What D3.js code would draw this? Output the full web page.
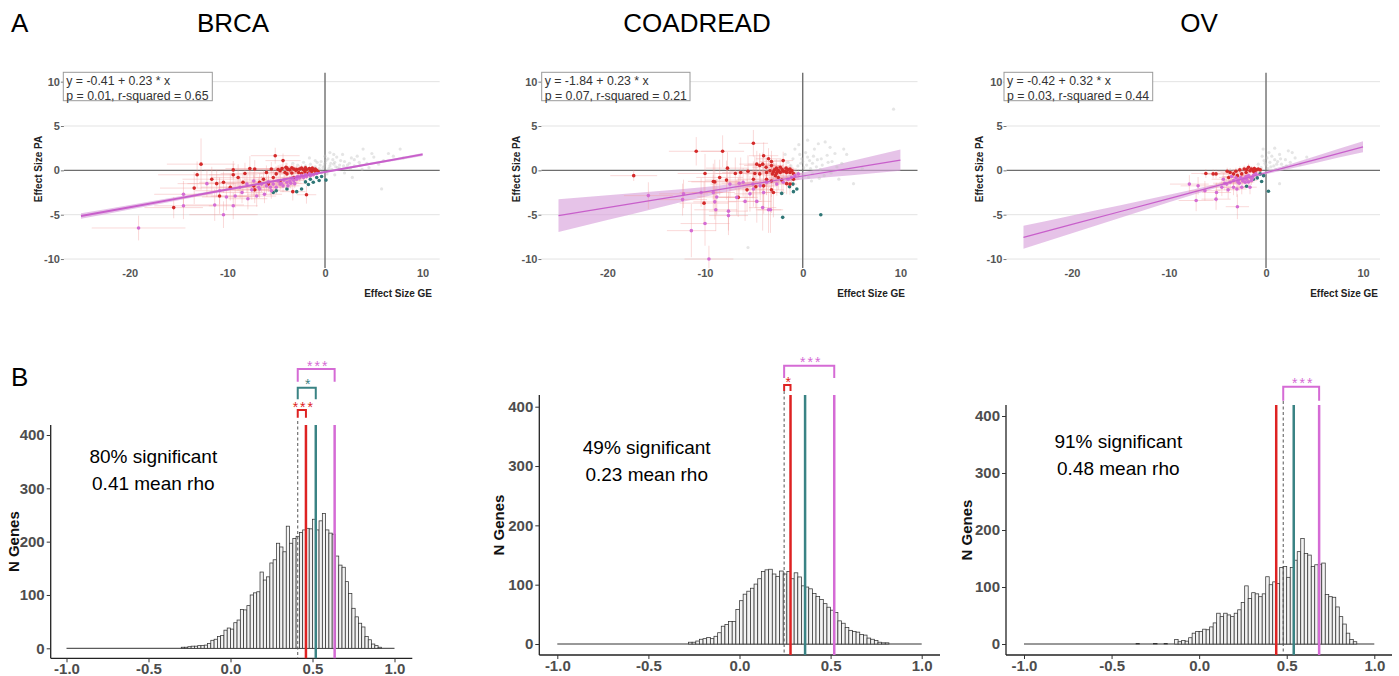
<!DOCTYPE html>
<html>
<head>
<meta charset="utf-8">
<script src="https://cdn.jsdelivr.net/npm/d3@7"></script>
<style>
  body { margin: 0; background: #fff; }
  text { font-family: "Liberation Sans", Arial, sans-serif; }
</style>
</head>
<body>
<script>
// ---------- DATA ----------
const cancers = ["BRCA", "COADREAD", "OV"];
const fitLabels = [
  ["y = -0.41 + 0.23 * x", "p = 0.01, r-squared = 0.65"],
  ["y = -1.84 + 0.23 * x", "p = 0.07, r-squared = 0.21"],
  ["y = -0.42 + 0.32 * x", "p = 0.03, r-squared = 0.44"]
];
const xTicksA = [-20, -10, 0, 10];
const yTicksA = [-10, -5, 0, 5, 10];

// fitted line and confidence band
const fitX = [-25, -20, -15, -10, -5, 0, 5, 10];
const fitY = [
  [-5.15, -4.16, -3.16, -2.17, -1.18, -0.18, 0.81, 1.8],
  [-5.1, -4.21, -3.31, -2.42, -1.53, -0.64, 0.26, 1.15],
  [-7.55, -6.09, -4.64, -3.18, -1.72, -0.27, 1.19, 2.65]
];
const fitHalf = [
  [0.32, 0.26, 0.2, 0.14, 0.1, 0.09, 0.12, 0.17],
  [1.85, 1.4, 0.95, 0.55, 0.3, 0.4, 0.8, 1.2],
  [1.3, 1.0, 0.7, 0.42, 0.2, 0.18, 0.38, 0.62]
];

// points: [GE effect, PA effect, GE error, PA error]
const brcaRed = [[-5.1,1.65,2.5,0.9],[-4.3,1.1,1.8,0.8],[-12.7,0.7,3.5,2.9],[-13.1,-0.5,4,1.5],[-15.5,-4.2,3,1.2],
  [-13.4,-2.0,3.5,1.8],[-11.6,-1.0,3,1.4],[-9.4,-0.5,2.5,1.2],[-9.4,0.05,3,1],[-7.7,0.2,2.5,1.4],[-7.2,0.15,2,1],
  [-8.2,-0.35,2.5,1.2],[-8.9,-0.8,2.8,1.5],[-11.1,-1.5,3,1.5],[-10.4,-1.35,2.5,1.2],[-10.8,-2.9,3,2],[-7.2,-2.2,2.5,1.5],
  [-6.7,-1.35,2,1],[-6.0,-0.25,2,0.8],[-5.5,0.15,1.8,0.8],[-5.0,-0.4,1.8,0.8],[-4.6,-0.05,1.5,0.7],[-3.9,0.25,1.3,0.6],
  [-3.6,0.05,1.2,0.5],[-3.2,0.15,1,0.5],[-2.9,0.1,1,0.4],[-2.6,0.15,0.9,0.4],[-2.2,0.05,0.8,0.4],[-1.9,0.1,0.7,0.3],
  [-1.5,0.05,0.6,0.3],[-1.2,0.05,0.5,0.3],[-0.85,0,0.4,0.2],[-4.1,-0.25,1.5,0.7],[-3.4,-0.3,1.2,0.6],[-2.7,-0.25,1,0.5],
  [-2.05,-0.2,0.8,0.4],[-1.4,-0.15,0.6,0.3],[-5.3,-0.8,1.8,0.9],[-6.3,-1.0,2,1],[-4.6,-1.2,1.6,0.8],[-3.2,-0.8,1.2,0.6],
  [-1.9,-2.75,1,1],[-3.3,-2.4,1.3,1],[-7.3,-1.75,2.2,1.2],[-8.4,-1.35,2.5,1.2],[-9.7,-1.9,3,1.5],[-5.8,-1.55,1.8,0.9],
  [-3.9,-0.4,1.3,0.6],[-2.4,-0.35,0.9,0.4],[-1.7,-0.3,0.7,0.3],[-1.0,-0.1,0.5,0.3],[-0.7,-0.15,0.4,0.2],
  [-4.8,0.1,1.2,0.5],[-4.4,0.2,1.2,0.5],[-3.8,0.1,1,0.4],[-3.0,0.0,0.9,0.4],[-2.4,0.25,0.8,0.4],[-1.6,0.2,0.6,0.3],
  [-1.0,0.15,0.4,0.2],[-4.0,0.35,1.1,0.5],[-3.4,0.3,1,0.4],[-2.0,0.3,0.7,0.3],[-1.3,0.25,0.5,0.3]];
const brcaPink = [[-19.1,-6.5,4.8,1.4],[-14.5,-2.7,3,1.5],[-14.5,-4.0,3,1.5],[-12.1,-1.5,3,1.5],[-11.3,-3.9,3,1.8],
  [-10.4,-5.0,3.5,1.5],[-10.8,-2.3,2.5,1.5],[-10.1,-3.0,2.5,1.5],[-9.4,-4.0,2.5,1.5],[-9.2,-2.9,2.5,1.3],[-8.7,-1.9,2.2,1.2],
  [-7.9,-3.2,2,1.2],[-7.0,-2.9,2,1.2],[-6.7,-2.1,1.8,1],[-6.2,-2.7,1.8,1],[-8.0,-1.55,2,1],[-7.3,-1.2,2,1],[-6.5,-1.55,1.8,0.9],
  [-5.6,-1.9,1.6,0.9],[-5.3,-1.55,1.5,0.8],[-5.0,-1.9,1.5,0.8],[-4.6,-1.55,1.4,0.7],[-4.3,-1.75,1.3,0.7],[-3.9,-1.35,1.2,0.6],
  [-3.6,-1.2,1.1,0.6],[-3.2,-1.15,1,0.5],[-2.9,-1.0,0.9,0.5],[-2.6,-0.85,0.8,0.4],[-2.2,-0.8,0.7,0.4],[-1.9,-0.7,0.6,0.3],
  [-1.5,-0.6,0.5,0.3],[-1.2,-0.5,0.4,0.3],[-0.85,-0.35,0.3,0.2],[-6.0,-1.75,1.7,0.9],[-6.8,-1.9,1.8,1],[-7.5,-2.2,2,1.1],
  [-8.5,-2.5,2.2,1.2],[-5.5,-2.3,1.6,0.9],[-3.8,-1.75,1.2,0.6],[-3.1,-1.5,1,0.5],[-4.8,-1.2,1.3,0.6],[-4.2,-1.1,1.2,0.6],
  [-3.4,-0.9,1,0.5],[-2.8,-0.7,0.9,0.4],[-2.4,-0.6,0.8,0.4],[-2.0,-0.5,0.7,0.3],[-1.6,-0.4,0.6,0.3],[-5.8,-1.3,1.6,0.8],
  [-4.5,-1.45,1.3,0.7],[-3.5,-1.45,1.1,0.6]];
const brcaTeal = [[0.1,-1.1,0.3,0.3],[-0.6,-1.15,0.3,0.3],[-1.2,-1.35,0.4,0.3],[-1.7,-1.6,0.5,0.4],[-2.4,-2.1,0.6,0.5],
  [-2.9,-2.4,0.7,0.5],[-5.3,-2.5,1,0.6],[-5.0,-2.3,1,0.6],[-3.9,-2.1,0.8,0.5],[-0.85,-0.8,0.3,0.3],[-0.35,-0.7,0.3,0.3],
  [-1.5,-1.0,0.4,0.3],[-2.0,-1.3,0.5,0.4]];
const brcaGrey = [[-2.5,0.3],[-2,0.5],[-1.5,0.7],[-1,0.4],[-0.5,0.6],[0,0.8],[0.5,0.5],[1,0.9],[1.5,0.6],[2,1.0],[2.5,0.8],
  [3,1.2],[3.5,0.9],[4,1.3],[5,1.5],[6,1.1],[7,1.6],[8,1.4],[-1,1.1],[0.3,1.3],[1.2,1.5],[-0.3,-0.2],[0.7,0.1],[1.5,0.2],
  [2.2,0.3],[3,0.5],[-1.8,0.1],[0.2,-0.4],[1,-0.5],[2,-0.3],[5.8,-2.1],[4.5,0.3],[2.8,-0.8],[-0.8,0.9],[1.8,1.8],[0.5,2.0],
  [3.8,0.1],[-2.2,0.9],[-1.3,-0.3],[0.9,0.7],[7.7,2.4],[3.9,2.4],[-0.2,0.3],[0.4,0.2],[1.3,0.3],[-0.6,0.2],
  [-0.4,1.0],[0.1,1.1],[0.8,1.2],[1.6,1.1],[2.3,0.6],[2.7,1.4],[3.3,1.6],[4.3,0.8],[5.5,0.7],[6.5,1.9],[-1.6,1.4],
  [-0.1,0.5],[0.6,0.8],[1.1,0.4],[1.9,0.5],[2.6,0.2],[3.6,0.6],[0.0,1.6],[0.9,1.8],[-2.8,0.6],[-3.3,0.8],[4.8,1.9]];

const coadRed = [[-17.3,-0.6,2.4,0.6],[-10.9,2.15,2.8,1.6],[-8.2,2.15,2.2,1.8],[-5.05,3.05,1.5,1.5],[-4.0,1.65,1.5,1.5],
  [-3.5,1.3,1.3,1.2],[-3.2,1.0,1.2,1.2],[-2.0,1.1,1,1],[-4.7,0.7,1.8,1.5],[-4.4,0.55,1.6,1.4],[-4.1,0.7,1.5,1.3],
  [-3.75,0.35,1.4,1.2],[-3.2,0.55,1.2,1.1],[-2.7,0.25,1.1,1],[-2.3,0.35,1,0.9],[-1.7,0.25,0.8,0.8],[-1.3,0.15,0.7,0.6],
  [-7.7,0.25,2.2,1.8],[-10.0,-0.35,2.8,2.2],[-9.15,-1.25,2.6,2],[-9.0,-1.3,2.4,2.5],[-8.5,-0.8,2.4,2],[-7.8,-1.1,2.2,2.2],
  [-6.9,-0.35,2,1.8],[-6.35,-0.25,1.9,1.7],[-5.6,-0.1,1.8,1.8],[-4.9,-0.35,1.6,2],[-4.4,-0.4,1.5,2.2],[-3.7,-0.25,1.3,1.6],
  [-3.35,-0.05,1.2,1.2],[-3.0,-0.15,1.1,1.1],[-2.7,-0.35,1.1,1],[-2.3,-0.25,1,0.9],[-2.0,-0.1,0.9,0.8],[-1.65,-0.25,0.8,0.7],
  [-1.3,-0.25,0.7,0.6],[-0.95,-0.35,0.6,0.5],[-2.8,-0.6,1.1,1.2],[-2.5,-0.8,1,1.4],[-2.15,-1.1,1,1.6],[-3.2,-1.2,1.2,1.8],
  [-3.7,-1.0,1.3,1.8],[-5.05,-1.0,1.6,2],[-5.7,-2.2,1.8,2.4],[-4.8,-1.85,1.6,2.4],[-4.0,-1.75,1.5,2.6],[-3.2,-2.2,1.3,2.6],
  [-3.0,-2.5,1.2,2.8],[-6.6,-3.05,2,2.2],[-10.1,-3.7,2.5,2.4],[-1.65,-1.5,0.8,1.2],[-1.3,-1.55,0.7,1.2],[-0.95,-1.0,0.6,0.8],
  [-2.9,0.05,0.8,0.6],[-2.5,0.0,0.8,0.6],[-2.1,0.1,0.7,0.5],[-1.8,-0.1,0.7,0.5],[-1.5,0.05,0.6,0.5],[-2.6,-0.15,0.8,0.6],
  [-3.1,-0.4,0.9,0.7],[-1.1,-0.05,0.5,0.4]];
const coadPink = [[-15.8,-2.85,2.5,1.5],[-12.2,-2.65,2.5,1.6],[-12.3,-3.3,2.5,1.8],[-10.4,-2.5,2.2,1.6],[-9.15,-2.5,2.2,2],
  [-9.0,-3.55,2.2,2],[-8.8,-3.0,2,2],[-8.9,-4.45,2.2,2.4],[-10.0,-6.0,2.5,2.5],[-11.4,-6.8,2.5,3],[-9.6,-10.0,2.5,1.5],
  [-7.6,-4.6,2,2.2],[-7.6,-5.1,2,2.2],[-7.45,-1.55,2,1.6],[-6.75,-3.05,1.8,2],[-6.1,-1.35,1.7,1.6],[-5.9,-3.5,1.7,2.2],
  [-5.4,-2.65,1.6,2],[-5.05,-2.1,1.5,2],[-4.7,-3.5,1.5,2.4],[-4.0,-2.5,1.4,2.4],[-4.1,-4.2,1.4,2.6],[-3.5,-4.45,1.3,2.6],
  [-3.3,-4.45,1.3,2.6],[-4.35,-1.75,1.4,1.6],[-3.7,-1.35,1.3,1.4],[-2.65,-1.55,1.1,1.3],[-2.0,-1.35,0.9,1.1],[-1.5,-1.0,0.8,0.9],
  [-1.15,-0.8,0.7,0.8],[-0.8,-0.6,0.5,0.6],[-0.45,-0.4,0.4,0.5],[-6.5,-1.45,1.8,1.6],[-5.1,-1.55,1.6,1.6]];
const coadTeal = [[-2.05,-5.3,0.5,1.3],[1.85,-5.0,0.3,1.5],[-2.15,-2.6,0.5,0.8],[-0.95,-2.4,0.4,0.6],[-0.6,-2.1,0.4,0.6],
  [-1.0,-1.55,0.4,0.5],[-1.35,-1.85,0.4,0.5]];
const coadGrey = [[-0.5,0.5],[0,1.0],[0.5,1.5],[1,0.8],[1.5,1.2],[2,0.6],[-1,1.3],[0.3,2.0],[1.2,2.4],[2.5,1.7],[3,1.0],
  [0.8,0.2],[-0.3,1.8],[1.8,0.1],[2.8,2.6],[3.5,0.4],[-1.5,0.9],[0.1,0.3],[1,-0.4],[2.2,-0.6],[4.5,1.8],[3.7,-1.0],
  [-0.8,2.4],[1.6,3.0],[0.6,-0.8],[9.3,6.9],[5.2,-1.5],[4.2,2.4],[2.3,3.2],[-5.6,-8.7],[-0.2,0.8],[0.7,1.1],[1.4,0.4],
  [-0.6,-0.3],[0.2,-0.6],[0.4,0.6],[1.1,1.6],[1.9,1.3],[2.6,0.9],[3.3,1.9],[-0.1,1.3],[-1.2,0.5],[0.9,-1.2],[1.7,-0.9],
  [2.9,-0.3],[4.0,0.8],[-0.4,2.9],[0.5,3.4],[-1.8,1.8],[6.1,0.2]];

const ovRed = [[-6.2,-0.35,1.5,0.5],[-5.45,-0.4,1.2,0.5],[-5.15,-0.4,1.2,0.5],[-3.35,-0.4,1,0.5],[-3.1,-0.1,0.9,0.4],
  [-2.7,0.05,0.8,0.4],[-2.5,-0.4,0.8,0.4],[-2.25,0.15,0.7,0.4],[-1.8,0.35,0.6,0.4],[-1.65,-0.05,0.6,0.3],[-1.5,0.15,0.5,0.3],
  [-1.3,-0.1,0.5,0.3],[-1.0,0.05,0.4,0.3],[-0.8,0.15,0.4,0.3],[-0.6,0.05,0.3,0.2],[-3.7,-0.25,1,0.5],[-2.95,-0.6,0.9,0.5],
  [-2.05,-0.25,0.7,0.4],[-3.85,-0.8,1,0.6],[-1.15,-0.25,0.5,0.3],[-4.0,-0.1,1,0.4],[-2.0,0.1,0.6,0.3],[-1.2,0.2,0.4,0.3]];
const ovPink = [[-7.9,-1.55,2,1],[-7.0,-1.75,1.8,1],[-7.2,-3.4,1.8,1.2],[-5.15,-3.25,1.5,1.2],[-5.1,-2.5,1.5,1.1],
  [-6.3,-2.3,1.6,1.1],[-2.95,-4.1,1.2,1.4],[-4.55,-1.9,1.3,1],[-4.05,-1.55,1.2,0.9],[-3.7,-1.35,1.1,0.8],[-3.35,-1.15,1,0.7],
  [-3.1,-0.85,0.9,0.6],[-2.85,-1.1,0.9,0.6],[-2.6,-0.8,0.8,0.5],[-2.35,-1.0,0.8,0.5],[-2.05,-0.7,0.7,0.5],[-1.8,-0.6,0.6,0.4],
  [-1.6,-0.8,0.6,0.4],[-1.3,-0.55,0.5,0.4],[-1.05,-0.4,0.4,0.3],[-3.9,-2.2,1.2,1],[-3.35,-1.9,1.1,0.9],[-2.5,-1.9,0.9,0.8],
  [-1.65,-1.9,0.7,0.8],[-4.4,-1.0,1.2,0.7],[-3.55,-0.7,1,0.6],[-2.75,-1.45,0.9,0.7],[-2.15,-1.35,0.8,0.6],[-1.5,-1.15,0.6,0.5],
  [-4.25,-1.45,1.2,0.8],[-3.0,-2.1,1,0.9],[-2.4,-1.2,0.8,0.5],[-2.0,-1.0,0.7,0.5],[-1.8,-1.3,0.6,0.5],[-2.9,-1.3,0.9,0.6],
  [-2.2,-0.9,0.7,0.5],[-1.4,-0.9,0.5,0.4]];
const ovTeal = [[0.25,-2.35,0.3,0.4],[-2.0,-1.8,0.5,0.5],[-0.45,-1.25,0.3,0.3],[-0.9,-0.85,0.3,0.3],[-1.3,-1.0,0.4,0.3],
  [-0.25,-0.6,0.3,0.3],[-0.6,-0.4,0.3,0.3]];
const ovGrey = [[-0.5,0.3],[0,0.6],[0.4,0.9],[0.8,0.5],[1.2,1.0],[1.6,0.7],[2,1.2],[-0.2,1.1],[0.6,1.6],[1.4,1.8],[2.5,0.9],
  [3,1.4],[0.2,0.2],[1,0.1],[-0.8,0.7],[1.8,0.3],[2.7,2.0],[-0.3,2.4],[2.3,2.2],[1.4,-1.5],[4.2,1.5],[0.1,1.4],[0.9,1.2],
  [-0.1,0.8],[0.5,0.4],[1.1,0.7],[1.5,1.3],[2.1,0.5],[-0.4,1.6],[0.3,2.0],[0.9,2.5],[3.5,0.7],[-0.6,-0.1]];

const redPts = [brcaRed, coadRed, ovRed];
const pinkPts = [brcaPink, coadPink, ovPink];
const tealPts = [brcaTeal, coadTeal, ovTeal];
const greyPts = [brcaGrey, coadGrey, ovGrey];

// histograms of rho, bins of 0.02
const binWidth = 0.02;
const binStart = [-0.30, -0.28, -0.36];
const brcaCounts = [2,2,3,4,4,5,5,6,9,15,17,22,24,34,38,36,48,53,73,72,80,100,104,106,143,128,134,160,166,197,
  190,181,229,197,206,210,217,222,225,224,242,222,239,253,222,216,214,173,156,152,125,103,75,59,47,40,22,16,8,5,2];
const coadCounts = [3,3,5,8,9,11,9,13,19,30,33,38,38,58,73,84,89,94,101,110,122,125,126,118,114,123,118,122,110,120,
  113,98,96,93,85,80,75,68,62,57,53,39,35,28,23,21,20,16,15,10,8,6,3,2,2];
const ovCounts = [1,0,0,0,0,1,0,0,1,0,0,8,4,6,5,11,19,22,22,26,25,30,37,54,48,54,51,48,54,60,73,102,80,90,88,83,88,
  118,104,109,106,134,136,117,134,147,162,185,159,156,136,139,140,142,87,83,82,65,48,35,19,8,4];
const counts = [brcaCounts, coadCounts, ovCounts];
const xTicksB = [-1, -0.5, 0, 0.5, 1];
const yTicksB = [0, 100, 200, 300, 400];

const sigLabels = ["80% significant", "49% significant", "91% significant"];
const rhoLabels = ["0.41 mean rho", "0.23 mean rho", "0.48 mean rho"];
const meanRho = [0.41, 0.245, 0.48];
const groupRho = {
  red: [0.46, 0.28, 0.44],
  teal: [0.52, 0.36, 0.54],
  pink: [0.635, 0.52, 0.685]
};
const brackets = [
  [["red", "***"], ["teal", "*"], ["pink", "***"]],
  [["red", "*"], ["pink", "***"]],
  [["pink", "***"]]
];

// ---------- STYLE / LAYOUT ----------
const col = { red: "#de2222", teal: "#3a8384", pink: "#d56bd5", grey: "#bdbdbd" };
const topLayout = [
  { left: 63.9, right: 439.7, yLab: 38.3, xTitleEnd: 432, boxX: 63.3, boxW: 149 },
  { left: 541.4, right: 917.5, yLab: 516.7, xTitleEnd: 905, boxX: 541.7, boxW: 148.3 },
  { left: 1006.5, right: 1380, yLab: 979.3, xTitleEnd: 1378, boxX: 1004, boxW: 148.7 }
];
const histLayout = [
  { x0: 66.5, x1: 394.5, yZero: 648.3, y400: 435, axisX: 50.7, axisTop: 425, axisY: 658.3, axisRight: 412.3,
    nX: 14, nY: 541.7, textX: 153.3, textY: [456.7, 483.3], brY: [410, 387.7, 369], legY: [417.7, 399.3, 381.7] },
  { x0: 557.3, x1: 921.7, yZero: 644, y400: 406.7, axisX: 539.3, axisTop: 395, axisY: 655, axisRight: 940,
    nX: 498.3, nY: 525, textX: 646.7, textY: [447.3, 474], brY: [385, 365.7], legY: [391, 378] },
  { x0: 1024, x1: 1374.3, yZero: 644, y400: 416, axisX: 1006, axisTop: 405, axisY: 655, axisRight: 1392,
    nX: 966.7, nY: 530, textX: 1118.3, textY: [441, 468.3], brY: [386.7], legY: [400.7] }
];
const titleX = [233, 697, 1199];

const svg = d3.select("body").append("svg").attr("width", 1399).attr("height", 676);

// * TITLES
const cal = "Lato, 'Open Sans', sans-serif";
svg.append("text").attr("x", 11).attr("y", 32).attr("font-family", cal).attr("font-size", 26).text("A");
svg.append("text").attr("x", 11).attr("y", 386).attr("font-family", cal).attr("font-size", 26).text("B");
svg.selectAll("text.title").data(cancers).join("text")
  .attr("class", "title")
  .attr("x", (d, i) => titleX[i]).attr("y", 32)
  .attr("text-anchor", "middle")
  .attr("font-family", cal).attr("font-size", 26)
  .text(d => d);

// * PANEL A: effect size scatter
function drawScatter(k) {
  const L = topLayout[k];
  const x = d3.scaleLinear().domain([-26.75, 11.75]).range([L.left, L.right]);
  const y = d3.scaleLinear().domain([-11, 11]).range([267.9, 72.8]);
  const g = svg.append("g");

  svg.append("clipPath").attr("id", "clipA" + k)
    .append("rect").attr("x", L.left).attr("y", 72.8)
    .attr("width", L.right - L.left).attr("height", 267.9 - 72.8);

  g.selectAll("line.grid").data(yTicksA.filter(v => v !== 0)).join("line")
    .attr("x1", L.left).attr("x2", L.right)
    .attr("y1", d => y(d)).attr("y2", d => y(d))
    .attr("stroke", "#e3e3e3").attr("stroke-width", 1);

  g.append("line").attr("x1", L.left).attr("x2", L.right).attr("y1", y(0)).attr("y2", y(0))
    .attr("stroke", "#6e6e6e").attr("stroke-width", 1.4);
  g.append("line").attr("x1", x(0)).attr("x2", x(0)).attr("y1", 72.8).attr("y2", 267.9)
    .attr("stroke", "#6e6e6e").attr("stroke-width", 1.4);

  const pg = g.append("g").attr("clip-path", "url(#clipA" + k + ")");

  const band = d3.area()
    .x((d, i) => x(fitX[i]))
    .y0((d, i) => y(fitY[k][i] - fitHalf[k][i]))
    .y1((d, i) => y(fitY[k][i] + fitHalf[k][i]))
    .curve(d3.curveMonotoneX);
  pg.append("path").datum(fitX).attr("d", band).attr("fill", "#d9a3dc").attr("opacity", 0.65);

  const withErr = redPts[k].concat(pinkPts[k]);
  pg.selectAll("line.eh").data(withErr).join("line")
    .attr("x1", d => x(d[0] - d[2])).attr("x2", d => x(d[0] + d[2]))
    .attr("y1", d => y(d[1])).attr("y2", d => y(d[1]))
    .attr("stroke", "#f29a9a").attr("stroke-opacity", 0.42).attr("stroke-width", 0.9);
  pg.selectAll("line.ev").data(withErr).join("line")
    .attr("x1", d => x(d[0])).attr("x2", d => x(d[0]))
    .attr("y1", d => y(d[1] - d[3])).attr("y2", d => y(d[1] + d[3]))
    .attr("stroke", "#f29a9a").attr("stroke-opacity", 0.42).attr("stroke-width", 0.9);

  pg.selectAll("circle.grey").data(greyPts[k]).join("circle")
    .attr("cx", d => x(d[0])).attr("cy", d => y(d[1])).attr("r", 1.6)
    .attr("fill", col.grey).attr("opacity", 0.4);
  pg.selectAll("circle.teal").data(tealPts[k]).join("circle")
    .attr("cx", d => x(d[0])).attr("cy", d => y(d[1])).attr("r", 1.8).attr("fill", "#2f7676");
  pg.selectAll("circle.red").data(redPts[k]).join("circle")
    .attr("cx", d => x(d[0])).attr("cy", d => y(d[1])).attr("r", 1.8).attr("fill", "#d42a2a");
  pg.selectAll("circle.pink").data(pinkPts[k]).join("circle")
    .attr("cx", d => x(d[0])).attr("cy", d => y(d[1])).attr("r", 1.8).attr("fill", "#d46cd4");

  const line = d3.line().x((d, i) => x(fitX[i])).y((d, i) => y(fitY[k][i]));
  pg.append("path").datum(fitX).attr("d", line).attr("fill", "none")
    .attr("stroke", "#c85fcb").attr("stroke-width", k === 0 ? 2 : 1.2);

  // axes
  const ya = g.append("g").attr("transform", "translate(" + L.left + ",0)")
    .call(d3.axisLeft(y).tickValues(yTicksA).tickSize(3).tickPadding(1).tickFormat(d => String(d)));
  ya.select(".domain").remove();
  ya.selectAll("line").attr("stroke", "#777");
  ya.selectAll("text").attr("font-size", 11).attr("font-weight", "bold").attr("fill", "#555")
    .attr("font-family", "Liberation Sans, Arial, sans-serif");
  const xa = g.append("g").attr("transform", "translate(0,267.9)")
    .call(d3.axisBottom(x).tickValues(xTicksA).tickSize(0).tickPadding(1).tickFormat(d => String(d)));
  xa.select(".domain").remove();
  xa.selectAll("text").attr("font-size", 11).attr("font-weight", "bold").attr("fill", "#555")
    .attr("font-family", "Liberation Sans, Arial, sans-serif");

  g.append("text").attr("x", L.xTitleEnd).attr("y", 297).attr("text-anchor", "end")
    .attr("font-size", 10).attr("font-weight", "bold").attr("fill", "#222").text("Effect Size GE");
  g.append("text").attr("transform", "translate(" + L.yLab + ",169) rotate(-90)")
    .attr("text-anchor", "middle").attr("dy", "0.35em")
    .attr("font-size", 10).attr("font-weight", "bold").attr("fill", "#222").text("Effect Size PA");

  // fit annotation
  g.append("rect").attr("x", L.boxX).attr("y", 72.3).attr("width", L.boxW).attr("height", 28.4)
    .attr("fill", "#fff").attr("stroke", "#9a9a9a").attr("stroke-width", 1);
  g.selectAll("text.fit").data(fitLabels[k]).join("text")
    .attr("x", L.boxX + 3).attr("y", (d, i) => 85 + i * 14.5)
    .attr("font-size", 12.3).attr("fill", "#333").text(d => d);
}

// * PANEL B: rho histograms
function drawHist(k) {
  const H = histLayout[k];
  const xs = d3.scaleLinear().domain([-1, 1]).range([H.x0, H.x1]);
  const ys = d3.scaleLinear().domain([0, 400]).range([H.yZero, H.y400]);
  const g = svg.append("g");

  g.append("line").attr("x1", xs(-1)).attr("x2", xs(1)).attr("y1", ys(0)).attr("y2", ys(0))
    .attr("stroke", "#333").attr("stroke-width", 1);

  g.selectAll("rect").data(counts[k]).join("rect")
    .attr("x", (d, i) => xs(binStart[k] + i * binWidth))
    .attr("width", xs(binWidth) - xs(0))
    .attr("y", d => ys(d))
    .attr("height", d => ys(0) - ys(d))
    .attr("fill", "#f3f3f3").attr("stroke", "#333").attr("stroke-width", 0.75);

  // axis lines
  g.append("line").attr("x1", H.axisX).attr("x2", H.axisX).attr("y1", H.axisTop).attr("y2", H.axisY)
    .attr("stroke", "#222").attr("stroke-width", 1.3);
  g.append("line").attr("x1", H.axisX).attr("x2", H.axisRight).attr("y1", H.axisY).attr("y2", H.axisY)
    .attr("stroke", "#222").attr("stroke-width", 1.3);

  const ya = g.append("g").attr("transform", "translate(" + H.axisX + ",0)")
    .call(d3.axisLeft(ys).tickValues(yTicksB).tickSize(4).tickPadding(2));
  ya.select(".domain").remove();
  ya.selectAll("line").attr("stroke", "#333");
  ya.selectAll("text").attr("font-size", 15).attr("font-weight", "bold").attr("fill", "#4d4d4d")
    .attr("font-family", "Liberation Sans, Arial, sans-serif");
  const xa = g.append("g").attr("transform", "translate(0," + H.axisY + ")")
    .call(d3.axisBottom(xs).tickValues(xTicksB).tickSize(4).tickPadding(1).tickFormat(d => d.toFixed(1)));
  xa.select(".domain").remove();
  xa.selectAll("line").attr("stroke", "#333");
  xa.selectAll("text").attr("font-size", 15).attr("font-weight", "bold").attr("fill", "#4d4d4d")
    .attr("font-family", "Liberation Sans, Arial, sans-serif");

  g.append("text").attr("transform", "translate(" + H.nX + "," + H.nY + ") rotate(-90)")
    .attr("text-anchor", "middle").attr("dy", "0.35em")
    .attr("font-size", 15).attr("font-weight", "bold").attr("fill", "#111").text("N Genes");

  // mean and group lines
  g.append("line").attr("x1", xs(meanRho[k])).attr("x2", xs(meanRho[k]))
    .attr("y1", H.axisTop - 4).attr("y2", H.axisY)
    .attr("stroke", "#555").attr("stroke-width", 1).attr("stroke-dasharray", "3,2.5");
  ["red", "teal", "pink"].forEach(c => {
    g.append("line").attr("x1", xs(groupRho[c][k])).attr("x2", xs(groupRho[c][k]))
      .attr("y1", H.axisTop).attr("y2", H.axisY)
      .attr("stroke", col[c]).attr("stroke-width", 2.5);
  });

  // significance brackets
  brackets[k].forEach((b, j) => {
    const c = b[0];
    const xa0 = xs(meanRho[k]), xa1 = xs(groupRho[c][k]);
    const by = H.brY[j], ly = H.legY[j];
    g.append("path")
      .attr("d", "M" + xa0 + "," + ly + "V" + by + "H" + xa1 + "V" + ly)
      .attr("fill", "none").attr("stroke", col[c]).attr("stroke-width", 2);
    g.append("text").attr("x", (xa0 + xa1) / 2 + 2).attr("y", by + 1.5)
      .attr("text-anchor", "middle").attr("font-size", 14).attr("letter-spacing", 2)
      .attr("fill", col[c]).text(b[1]);
  });

  g.append("text").attr("x", H.textX).attr("y", H.textY[0]).attr("dy", "0.35em")
    .attr("text-anchor", "middle").attr("font-family", cal).attr("font-size", 19).text(sigLabels[k]);
  g.append("text").attr("x", H.textX).attr("y", H.textY[1]).attr("dy", "0.35em")
    .attr("text-anchor", "middle").attr("font-family", cal).attr("font-size", 19).text(rhoLabels[k]);
}

[0, 1, 2].forEach(k => { drawScatter(k); drawHist(k); });
</script>
</body>
</html>
